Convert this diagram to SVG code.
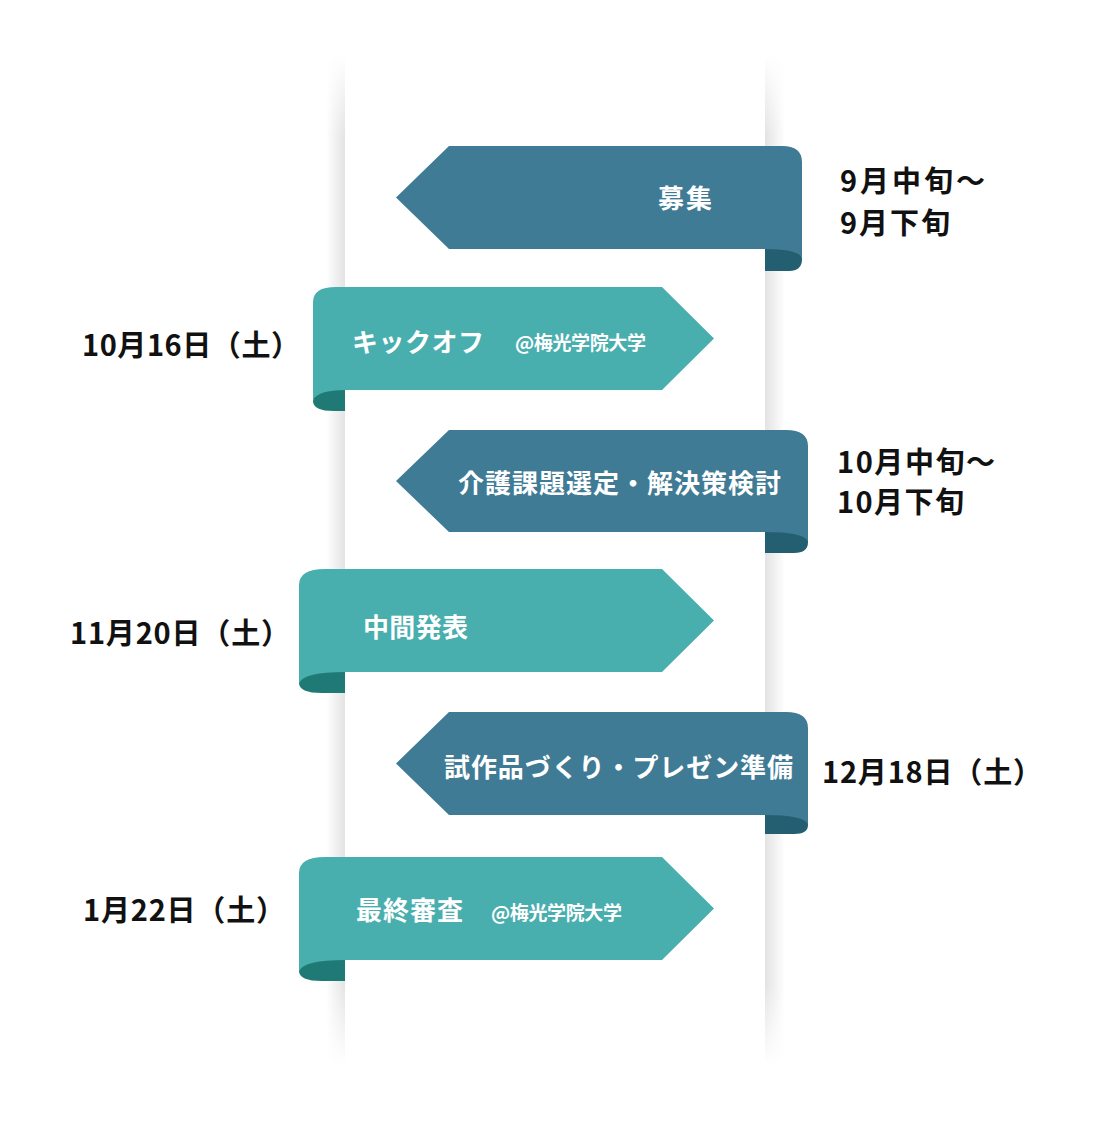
<svg xmlns="http://www.w3.org/2000/svg" width="1110" height="1125" viewBox="0 0 1110 1125">
  <defs>
    <linearGradient id="shL" x1="0" y1="0" x2="1" y2="0">
      <stop offset="0" stop-color="#000" stop-opacity="0"/>
      <stop offset="1" stop-color="#000" stop-opacity="0.11"/>
    </linearGradient>
    <linearGradient id="shR" x1="0" y1="0" x2="1" y2="0">
      <stop offset="0" stop-color="#000" stop-opacity="0.11"/>
      <stop offset="1" stop-color="#000" stop-opacity="0"/>
    </linearGradient>
    <linearGradient id="vfade" x1="0" y1="0" x2="0" y2="1">
      <stop offset="0" stop-color="#fff" stop-opacity="0"/>
      <stop offset="0.08" stop-color="#fff" stop-opacity="1"/>
      <stop offset="0.92" stop-color="#fff" stop-opacity="1"/>
      <stop offset="1" stop-color="#fff" stop-opacity="0"/>
    </linearGradient>
    <mask id="m">
      <rect x="0" y="55" width="1110" height="1010" fill="url(#vfade)"/>
    </mask>
    <style>
      .blue{fill:#3f7b95}
      .bfold{fill:#245f71}
      .teal{fill:#49aeae}
      .tfold{fill:#1f7a76}
      .lbl{font-family:"Noto Sans CJK JP","Noto Sans",sans-serif;font-weight:700;fill:#fff;font-size:26px}
      .sub{font-size:19px}
      .date{font-family:"Noto Sans CJK JP","Noto Sans",sans-serif;font-weight:700;fill:#111;font-size:29px}
    </style>
  </defs>
  <rect width="1110" height="1125" fill="#fff"/>
  <g id="column" mask="url(#m)">
    <rect x="326" y="55" width="19" height="1010" fill="url(#shL)"/>
    <rect x="765" y="55" width="20" height="1010" fill="url(#shR)"/>
  </g>
  <g id="connectors"/>

  <g id="n1">
    <path class="bfold" d="M765,249 L789,249 Q802,249 802,259 Q802,271 789,271 L765,271 Z"/>
    <path class="blue" d="M396,197.5 L449,146 L782,146 Q802,146 802,162 L802,258 Q798,249 765,249 L449,249 Z"/>
    <text class="lbl" x="658" y="208" textLength="54">募集</text>
  </g>
  <g id="n2">
    <path class="tfold" d="M345,390 L345,411 L334,411 Q313,411 313,401 Q313,390 334,390 Z"/>
    <path class="teal" d="M313,400 L313,302 Q313,287 336,287 L662,287 L714,338.5 L662,390 L345,390 Q318,390 313,400 Z"/>
    <text class="lbl" x="352" y="352" textLength="132">キックオフ</text>
    <text class="lbl sub" x="515" y="350" textLength="131">@梅光学院大学</text>
  </g>
  <g id="n3">
    <path class="bfold" d="M765,532 L794,532 Q808,532 808,542 Q808,553 794,553 L765,553 Z"/>
    <path class="blue" d="M396,481 L449,430 L786,430 Q808,430 808,446 L808,541 Q803,532 765,532 L449,532 Z"/>
    <text class="lbl" x="458" y="493" textLength="323">介護課題選定・解決策検討</text>
  </g>
  <g id="n4">
    <path class="tfold" d="M345,672 L345,693 L322,693 Q299,693 299,683 Q299,672 322,672 Z"/>
    <path class="teal" d="M299,683 L299,585 Q299,569 325,569 L662,569 L714,620.5 L662,672 L345,672 Q304,672 299,683 Z"/>
    <text class="lbl" x="363" y="637" textLength="105">中間発表</text>
  </g>
  <g id="n5">
    <path class="bfold" d="M765,815 L794,815 Q808,815 808,825 Q808,834 794,834 L765,834 Z"/>
    <path class="blue" d="M396,763.5 L449,712 L786,712 Q808,712 808,728 L808,824 Q803,815 765,815 L449,815 Z"/>
    <text class="lbl" x="444" y="777" textLength="349">試作品づくり・プレゼン準備</text>
  </g>
  <g id="n6">
    <path class="tfold" d="M345,960 L345,981 L322,981 Q299,981 299,971 Q299,960 322,960 Z"/>
    <path class="teal" d="M299,971 L299,873 Q299,857 325,857 L662,857 L714,908.5 L662,960 L345,960 Q304,960 299,971 Z"/>
    <text class="lbl" x="356" y="920" textLength="107">最終審査</text>
    <text class="lbl sub" x="491" y="920" textLength="131">@梅光学院大学</text>
  </g>

  <g id="d1">
    <text class="date" x="840" y="192" textLength="145">9月中旬～</text>
    <text class="date" x="840" y="234" textLength="110">9月下旬</text>
  </g>
  <g id="d2"><text class="date" x="82" y="356" textLength="218">10月16日（土）</text></g>
  <g id="d3">
    <text class="date" x="837" y="473" textLength="158">10月中旬～</text>
    <text class="date" x="837" y="513" textLength="127">10月下旬</text>
  </g>
  <g id="d4"><text class="date" x="70" y="644" textLength="220">11月20日（土）</text></g>
  <g id="d5"><text class="date" x="822" y="783" textLength="220">12月18日（土）</text></g>
  <g id="d6"><text class="date" x="83" y="921" textLength="202">1月22日（土）</text></g>
</svg>
